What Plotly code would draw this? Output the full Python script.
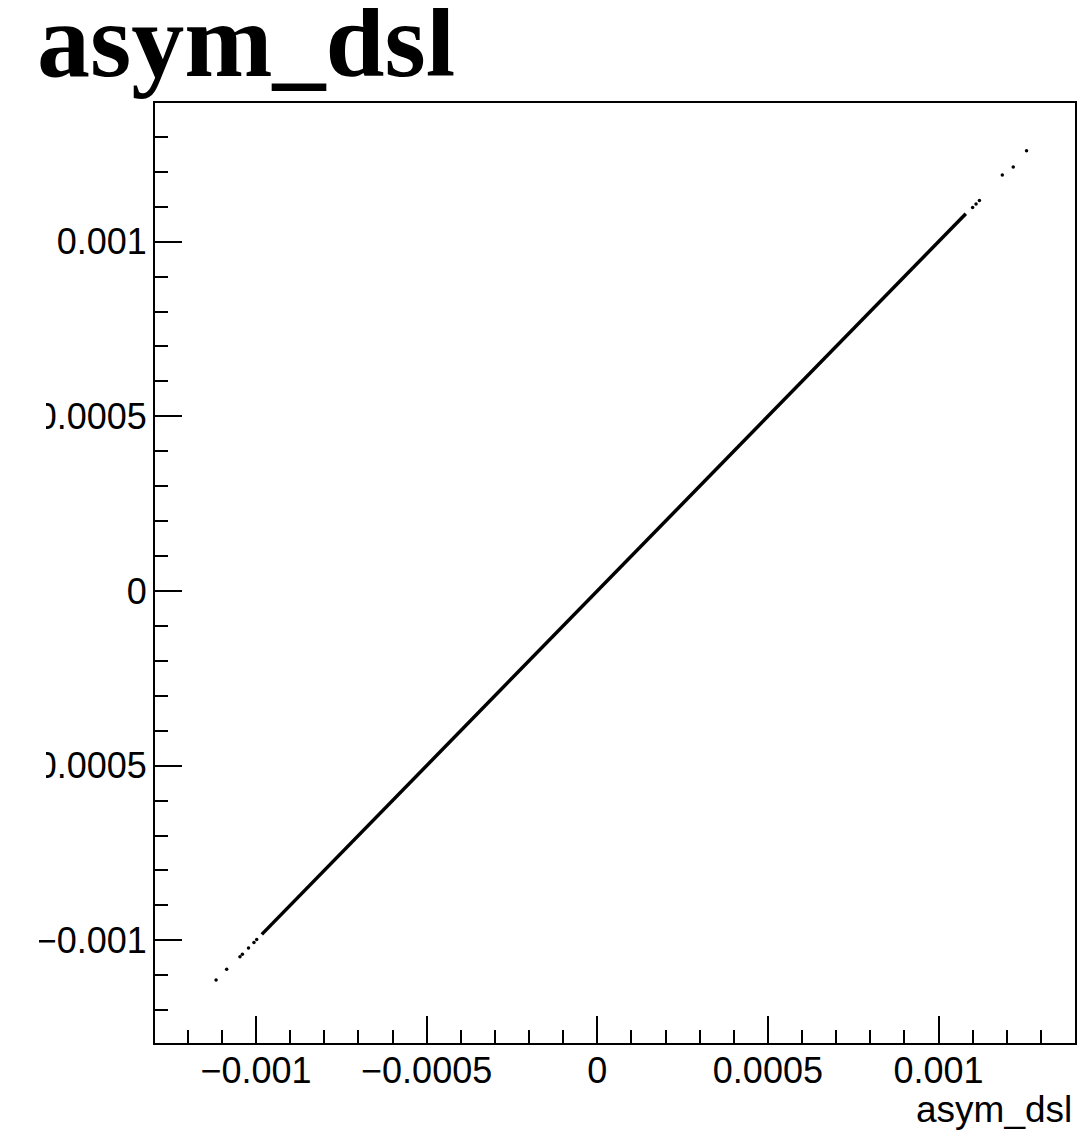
import plotly.graph_objects as go

# Dense core of the scatter (reads as a continuous line)
core_x = [-0.000983, -0.00095, -0.0009, -0.00085, -0.0008, -0.00075, -0.0007, -0.00065,
          -0.0006, -0.00055, -0.0005, -0.00045, -0.0004, -0.00035, -0.0003, -0.00025,
          -0.0002, -0.00015, -0.0001, -0.00005, 0.0, 0.00005, 0.0001, 0.00015, 0.0002,
          0.00025, 0.0003, 0.00035, 0.0004, 0.00045, 0.0005, 0.00055, 0.0006, 0.00065,
          0.0007, 0.00075, 0.0008, 0.00085, 0.0009, 0.00095, 0.001, 0.00105, 0.00108]
core_y = [-0.000983, -0.00095, -0.0009, -0.00085, -0.0008, -0.00075, -0.0007, -0.00065,
          -0.0006, -0.00055, -0.0005, -0.00045, -0.0004, -0.00035, -0.0003, -0.00025,
          -0.0002, -0.00015, -0.0001, -0.00005, 0.0, 0.00005, 0.0001, 0.00015, 0.0002,
          0.00025, 0.0003, 0.00035, 0.0004, 0.00045, 0.0005, 0.00055, 0.0006, 0.00065,
          0.0007, 0.00075, 0.0008, 0.00085, 0.0009, 0.00095, 0.001, 0.00105, 0.00108]

# Sparse outlying points at both ends
tail_x = [-0.001117, -0.001086, -0.001047, -0.001040, -0.001022, -0.001006, -0.000998,
          0.001100, 0.001110, 0.001120, 0.001187, 0.001219, 0.001258]
tail_y = [-0.001114, -0.001083, -0.001047, -0.001040, -0.001022, -0.001006, -0.000998,
          0.001098, 0.001108, 0.001118, 0.001191, 0.001214, 0.001260]

x_tickvals = [-0.001, -0.0005, 0, 0.0005, 0.001]
x_ticktext = ["\u22120.001", "\u22120.0005", "0", "0.0005", "0.001"]
y_tickvals = [-0.001, -0.0005, 0, 0.0005, 0.001]
y_ticktext = ["\u22120.001", "\u22120.0005", "0", "0.0005", "0.001"]

title_text = "asym_dsl"
x_title = "asym_dsl"

# the page body adds an 8 px margin; screen = OFF + figure pixel
OFF = 8
W, H = 1089 - OFF, 1137 - OFF
# plot area on screen: x 155..1075, y 103..1043
L, T = 155 - OFF, 103 - OFF
R, B = W - (1075 - OFF), H - (1043 - OFF)
pw, ph = W - L - R, H - T - B


def px_x(sx):  # screen x -> paper x
    return (sx - OFF - L) / pw


def px_y(sy):  # screen y -> paper y
    return (H - B - (sy - OFF)) / ph


fig = go.Figure()
fig.add_trace(go.Scatter(x=core_x, y=core_y, mode="lines",
                         line=dict(color="black", width=3.5), hoverinfo="skip"))
fig.add_trace(go.Scatter(x=tail_x, y=tail_y, mode="markers",
                         marker=dict(color="black", size=3.5), hoverinfo="skip"))

tickfont = dict(family="Liberation Sans, Arial, sans-serif", size=36, color="black")

fig.update_xaxes(range=[-0.001296, 0.0014], tickvals=x_tickvals, ticktext=x_ticktext,
                 ticks="inside", ticklen=27, tickwidth=2, tickcolor="black",
                 minor=dict(dtick=0.0001, tick0=0, ticks="inside", ticklen=13,
                            tickwidth=2, tickcolor="black"),
                 showline=True, linecolor="black", linewidth=2, mirror=True,
                 showgrid=False, zeroline=False, tickfont=tickfont,
                 ticklabelstandoff=-5, automargin=False)
fig.update_yaxes(range=[-0.001294, 0.001397], tickvals=y_tickvals, ticktext=y_ticktext,
                 ticks="inside", ticklen=27, tickwidth=2, tickcolor="black",
                 minor=dict(dtick=0.0001, tick0=0, ticks="inside", ticklen=13,
                            tickwidth=2, tickcolor="black"),
                 showline=True, linecolor="black", linewidth=2, mirror=True,
                 showgrid=False, zeroline=False, tickfont=tickfont,
                 ticklabelstandoff=-1, automargin=False)

fig.add_annotation(text=title_text, xref="paper", yref="paper",
                   x=px_x(35), y=px_y(41), xanchor="left", yanchor="middle",
                   showarrow=False,
                   font=dict(family="Liberation Serif, Times New Roman, serif", size=106,
                             color="black", weight="bold"))
fig.add_annotation(text=x_title, xref="paper", yref="paper",
                   x=px_x(1074), y=px_y(1087), xanchor="right", yanchor="top",
                   showarrow=False,
                   font=dict(family="Liberation Sans, Arial, sans-serif", size=37,
                             color="black"))

# left edge of the canvas cuts the widest y labels, as in the reference
fig.add_shape(type="rect", xref="paper", yref="paper", x0=px_x(0), x1=px_x(39),
              y0=px_y(1043), y1=px_y(103), fillcolor="white", line=dict(width=0),
              layer="above")
for yv in (0.0005, -0.0005):
    fig.add_shape(type="rect", xref="paper", yref="y", x0=px_x(0), x1=px_x(46),
                  y0=yv - 0.00006, y1=yv + 0.00006, fillcolor="white",
                  line=dict(width=0), layer="above")

fig.update_layout(width=W, height=H, margin=dict(l=L, r=R, t=T, b=B),
                  paper_bgcolor="white", plot_bgcolor="white", showlegend=False)

fig.write_html("out.html")
